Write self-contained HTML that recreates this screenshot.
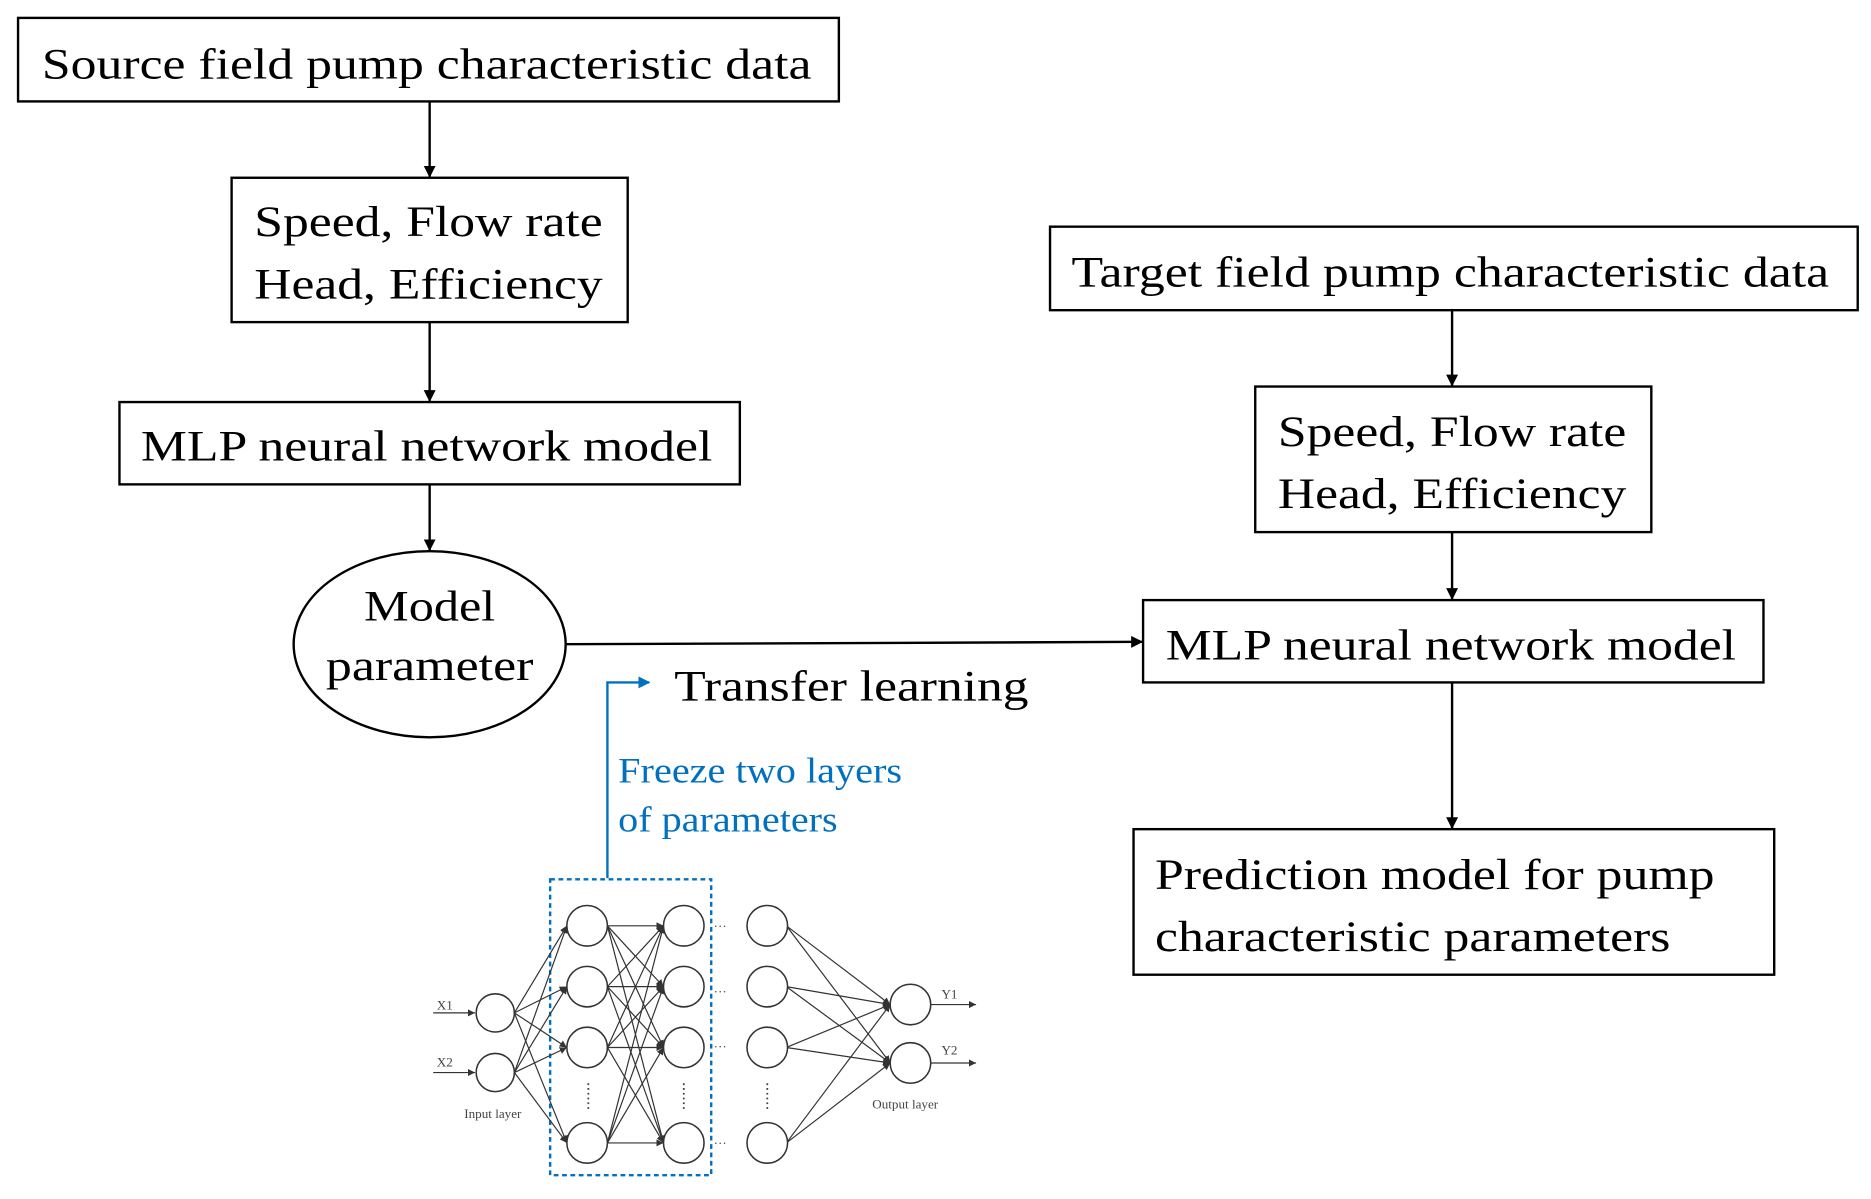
<!DOCTYPE html>
<html><head><meta charset="utf-8"><style>
html,body{margin:0;padding:0;background:#fff;}
svg{display:block;}
text{font-family:"Liberation Serif",serif;fill:#000;}
</style></head><body>
<svg width="1871" height="1199" viewBox="0 0 1568 1005" xmlns="http://www.w3.org/2000/svg">
<defs>
<marker id="a" markerWidth="10" markerHeight="10" refX="9" refY="5" orient="auto" markerUnits="userSpaceOnUse"><path d="M0,0 L10,5 L0,10 z" fill="#000"/></marker>
<marker id="ab" markerWidth="10" markerHeight="10" refX="9" refY="5" orient="auto" markerUnits="userSpaceOnUse"><path d="M0,0 L10,5 L0,10 z" fill="#0070c0"/></marker>
<marker id="s" markerWidth="6" markerHeight="6" refX="6" refY="3" orient="auto" markerUnits="userSpaceOnUse"><path d="M0,0 L6,3 L0,6 z" fill="#333"/></marker>
</defs>
<g fill="none" stroke="#000" stroke-width="2">
<rect x="15" y="15" width="688" height="70"/>
<rect x="194" y="149" width="332" height="121"/>
<rect x="100" y="337" width="520" height="69"/>
<ellipse cx="360" cy="540" rx="114" ry="78"/>
<rect x="880" y="190" width="677" height="70"/>
<rect x="1052" y="324" width="332" height="122"/>
<rect x="958" y="503" width="520" height="69"/>
<rect x="950" y="695" width="537" height="122"/>
<line x1="360" y1="85" x2="360" y2="148" marker-end="url(#a)"/>
<line x1="360" y1="270" x2="360" y2="336" marker-end="url(#a)"/>
<line x1="360" y1="406" x2="360" y2="461" marker-end="url(#a)"/>
<line x1="474" y1="540" x2="957" y2="538" marker-end="url(#a)"/>
<line x1="1217" y1="260" x2="1217" y2="323" marker-end="url(#a)"/>
<line x1="1217" y1="446" x2="1217" y2="502" marker-end="url(#a)"/>
<line x1="1217" y1="572" x2="1217" y2="694" marker-end="url(#a)"/>
</g>
<polyline points="509,736 509,572 544,572" fill="none" stroke="#0070c0" stroke-width="2" marker-end="url(#ab)"/>
<text x="35" y="66" font-size="36" textLength="645" lengthAdjust="spacingAndGlyphs">Source field pump characteristic data</text>
<text x="213" y="198" font-size="36" textLength="292" lengthAdjust="spacingAndGlyphs">Speed, Flow rate</text>
<text x="213" y="250" font-size="36" textLength="292" lengthAdjust="spacingAndGlyphs">Head, Efficiency</text>
<text x="118" y="386" font-size="36" textLength="479" lengthAdjust="spacingAndGlyphs">MLP neural network model</text>
<text x="305" y="520" font-size="36" textLength="110" lengthAdjust="spacingAndGlyphs">Model</text>
<text x="273" y="570" font-size="36" textLength="174" lengthAdjust="spacingAndGlyphs">parameter</text>
<text x="565" y="587" font-size="36" textLength="297" lengthAdjust="spacingAndGlyphs">Transfer learning</text>
<text x="518" y="656" font-size="30" style="fill:#0070c0" textLength="238" lengthAdjust="spacingAndGlyphs">Freeze two layers</text>
<text x="518" y="697" font-size="30" style="fill:#0070c0" textLength="184" lengthAdjust="spacingAndGlyphs">of parameters</text>
<text x="898" y="240" font-size="36" textLength="635" lengthAdjust="spacingAndGlyphs">Target field pump characteristic data</text>
<text x="1071" y="374" font-size="36" textLength="292" lengthAdjust="spacingAndGlyphs">Speed, Flow rate</text>
<text x="1071" y="426" font-size="36" textLength="292" lengthAdjust="spacingAndGlyphs">Head, Efficiency</text>
<text x="977" y="553" font-size="36" textLength="478" lengthAdjust="spacingAndGlyphs">MLP neural network model</text>
<text x="968" y="745" font-size="36" textLength="469" lengthAdjust="spacingAndGlyphs">Prediction model for pump</text>
<text x="968" y="797" font-size="36" textLength="432" lengthAdjust="spacingAndGlyphs">characteristic parameters</text>
<!-- neural network -->
<rect x="461" y="737" width="135" height="248" fill="none" stroke="#0070c0" stroke-width="2" stroke-dasharray="4,3"/>
<g stroke="#333" stroke-width="1" fill="none">
<line x1="363" y1="849" x2="398" y2="849" marker-end="url(#s)"/>
<line x1="363" y1="899" x2="398" y2="899" marker-end="url(#s)"/>
<line x1="780" y1="842" x2="818" y2="842" marker-end="url(#s)"/>
<line x1="780" y1="891" x2="818" y2="891" marker-end="url(#s)"/>
<!-- input to L1 -->
<g marker-end="url(#s)">
<line x1="431" y1="849" x2="475" y2="776"/><line x1="431" y1="849" x2="475" y2="827"/><line x1="431" y1="849" x2="475" y2="878"/><line x1="431" y1="849" x2="475" y2="958"/>
<line x1="431" y1="899" x2="475" y2="776"/><line x1="431" y1="899" x2="475" y2="827"/><line x1="431" y1="899" x2="475" y2="878"/><line x1="431" y1="899" x2="475" y2="958"/>
<!-- L1 to L2 -->
<line x1="509" y1="776" x2="556" y2="776"/><line x1="509" y1="776" x2="556" y2="827"/><line x1="509" y1="776" x2="556" y2="878"/><line x1="509" y1="776" x2="556" y2="958"/>
<line x1="509" y1="827" x2="556" y2="776"/><line x1="509" y1="827" x2="556" y2="827"/><line x1="509" y1="827" x2="556" y2="878"/><line x1="509" y1="827" x2="556" y2="958"/>
<line x1="509" y1="878" x2="556" y2="776"/><line x1="509" y1="878" x2="556" y2="827"/><line x1="509" y1="878" x2="556" y2="878"/><line x1="509" y1="878" x2="556" y2="958"/>
<line x1="509" y1="958" x2="556" y2="776"/><line x1="509" y1="958" x2="556" y2="827"/><line x1="509" y1="958" x2="556" y2="878"/><line x1="509" y1="958" x2="556" y2="958"/>
<!-- L3 to out -->
<line x1="659" y1="776" x2="746" y2="842"/><line x1="659" y1="776" x2="746" y2="891"/>
<line x1="659" y1="827" x2="746" y2="842"/><line x1="659" y1="827" x2="746" y2="891"/>
<line x1="659" y1="878" x2="746" y2="842"/><line x1="659" y1="878" x2="746" y2="891"/>
<line x1="659" y1="958" x2="746" y2="842"/><line x1="659" y1="958" x2="746" y2="891"/>
</g>
</g>
<g fill="#fff" stroke="#333" stroke-width="1.3">
<circle cx="415" cy="849" r="16"/><circle cx="415" cy="899" r="16"/>
<circle cx="492" cy="776" r="17"/><circle cx="492" cy="827" r="17"/><circle cx="492" cy="878" r="17"/><circle cx="492" cy="958" r="17"/>
<circle cx="573" cy="776" r="17"/><circle cx="573" cy="827" r="17"/><circle cx="573" cy="878" r="17"/><circle cx="573" cy="958" r="17"/>
<circle cx="643" cy="776" r="17"/><circle cx="643" cy="827" r="17"/><circle cx="643" cy="878" r="17"/><circle cx="643" cy="958" r="17"/>
<circle cx="763" cy="842" r="17"/><circle cx="763" cy="891" r="17"/>
</g>
<g font-size="11" style="fill:#444">
<text x="366" y="846" style="fill:#444">X1</text>
<text x="366" y="894" style="fill:#444">X2</text>
<text x="789" y="837" style="fill:#444">Y1</text>
<text x="789" y="884" style="fill:#444">Y2</text>
<text x="389" y="937" style="fill:#444">Input layer</text>
<text x="731" y="929" style="fill:#444">Output layer</text>
<text x="598" y="780" style="fill:#444">···</text>
<text x="598" y="835" style="fill:#444">···</text>
<text x="598" y="881" style="fill:#444">···</text>
<text x="598" y="962" style="fill:#444">···</text>
</g>
<g stroke="#444" stroke-width="1.5" stroke-dasharray="1.5,2.5">
<line x1="493" y1="908" x2="493" y2="930"/>
<line x1="573" y1="908" x2="573" y2="930"/>
<line x1="643" y1="908" x2="643" y2="930"/>
</g>
</svg>
</body></html>
